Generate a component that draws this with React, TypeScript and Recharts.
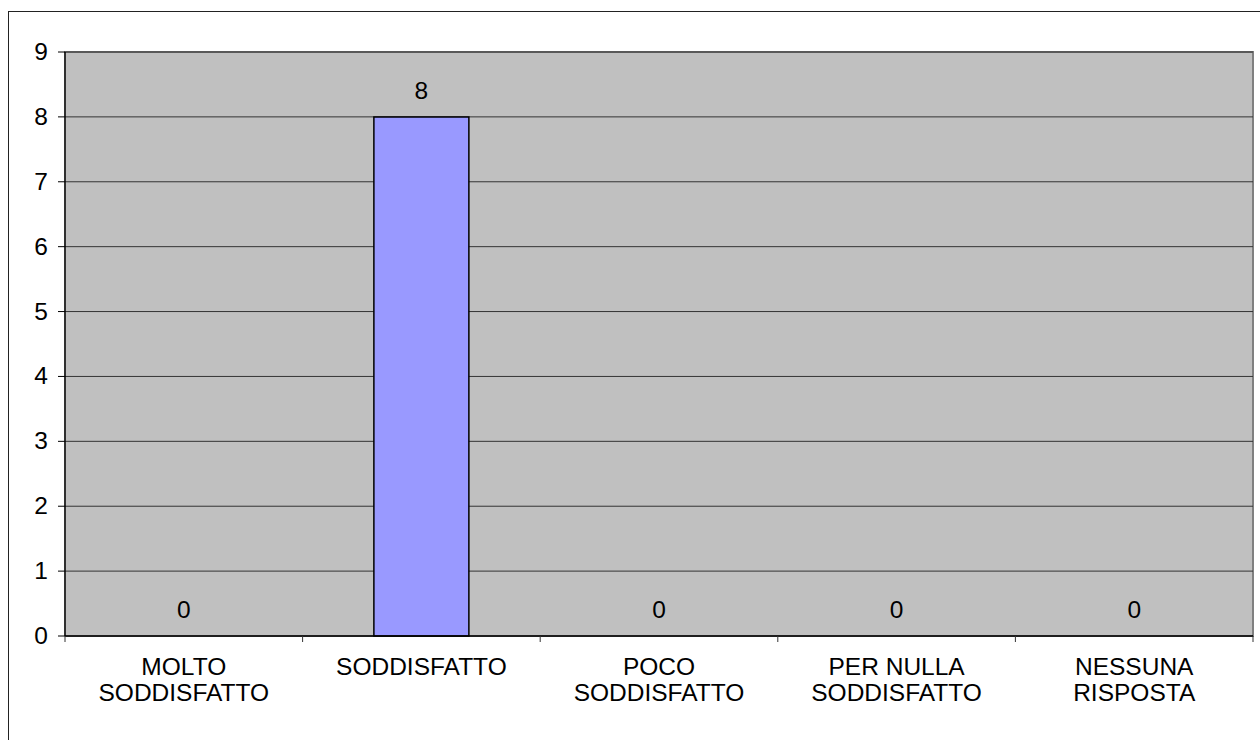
import { ComposedChart, Bar, Line, XAxis, YAxis, CartesianGrid } from "recharts";

const categories = ["MOLTO SODDISFATTO", "SODDISFATTO", "POCO SODDISFATTO", "PER NULLA SODDISFATTO", "NESSUNA RISPOSTA"];
const categoryLines = [["MOLTO", "SODDISFATTO"], ["SODDISFATTO"], ["POCO", "SODDISFATTO"], ["PER NULLA", "SODDISFATTO"], ["NESSUNA", "RISPOSTA"]];
const values = [0, 8, 0, 0, 0];
const yTicks = [0, 1, 2, 3, 4, 5, 6, 7, 8, 9];

const data = categories.map((name, i) => ({ name, value: values[i] }));

const FONT = "'Liberation Sans', Arial, sans-serif";
const FS = 24.5;

function CategoryTick(props: any) {
  const { x, y, payload, index, width } = props;
  const idx = categories.indexOf(payload.value);
  const lines = categoryLines[idx] || [payload.value];
  const half = (payload.offset ?? width / categories.length / 2) as number;
  const axisY = y - 8;
  return (
    <g>
      <line x1={x - half} x2={x - half} y1={axisY} y2={axisY + 6} stroke="#333" />
      {index === categories.length - 1 && (
        <line x1={x + half} x2={x + half} y1={axisY} y2={axisY + 6} stroke="#333" />
      )}
      <text x={x} y={y} textAnchor="middle" fill="#000" style={{ fontSize: FS, fontFamily: FONT }}>
        {lines.map((l, i) => (
          <tspan key={i} x={x} dy={i === 0 ? 31 : 26}>
            {l}
          </tspan>
        ))}
      </text>
    </g>
  );
}

function YTick(props: any) {
  const { x, y, payload } = props;
  return (
    <text x={x} y={y} dy={8} textAnchor="end" fill="#000" style={{ fontSize: FS, fontFamily: FONT }}>
      {payload.value}
    </text>
  );
}

function ValueLabel(props: any) {
  const { x, y, value } = props;
  return (
    <text x={x} y={y - 18} textAnchor="middle" fill="#000" style={{ fontSize: FS, fontFamily: FONT }}>
      {value}
    </text>
  );
}

export default function App() {
  return (
    <div style={{ position: "fixed", left: 0, top: 0, width: 1260, height: 740, background: "#fff", overflow: "hidden" }}>
      <div
        style={{
          position: "absolute",
          left: 8,
          top: 11,
          width: 1300,
          height: 800,
          borderTop: "1.5px solid #222",
          borderLeft: "1.5px solid #222",
        }}
      />
      <div
        style={{
          position: "absolute",
          left: 64,
          top: 51,
          width: 1188,
          height: 584,
          background: "#C0C0C0",
          borderTop: "2px solid #808080",
          borderRight: "2px solid #808080",
        }}
      />
      <div style={{ position: "absolute", left: 0, top: 0 }}>
        <ComposedChart
          width={1260}
          height={740}
          data={data}
          margin={{ top: 52, right: 7, bottom: 0, left: 0 }}
          barCategoryGap="30%"
        >
          <CartesianGrid vertical={false} stroke="#333" strokeWidth={1} />
          <XAxis
            dataKey="name"
            interval={0}
            tickLine={false}
            tickSize={6}
            tickMargin={2}
            axisLine={{ stroke: "#000", strokeWidth: 1.5 }}
            tick={<CategoryTick />}
            height={104}
          />
          <YAxis
            domain={[0, 9]}
            ticks={yTicks}
            interval={0}
            width={65}
            tickSize={7}
            tickMargin={10}
            axisLine={{ stroke: "#000", strokeWidth: 1.5 }}
            tickLine={{ stroke: "#000" }}
            tick={<YTick />}
          />
          <Bar dataKey="value" fill="#9999FF" stroke="#000" strokeWidth={1.5} isAnimationActive={false} />
          <Line
            dataKey="value"
            stroke="none"
            dot={false}
            activeDot={false}
            legendType="none"
            isAnimationActive={false}
            label={<ValueLabel />}
          />
        </ComposedChart>
      </div>
    </div>
  );
}
